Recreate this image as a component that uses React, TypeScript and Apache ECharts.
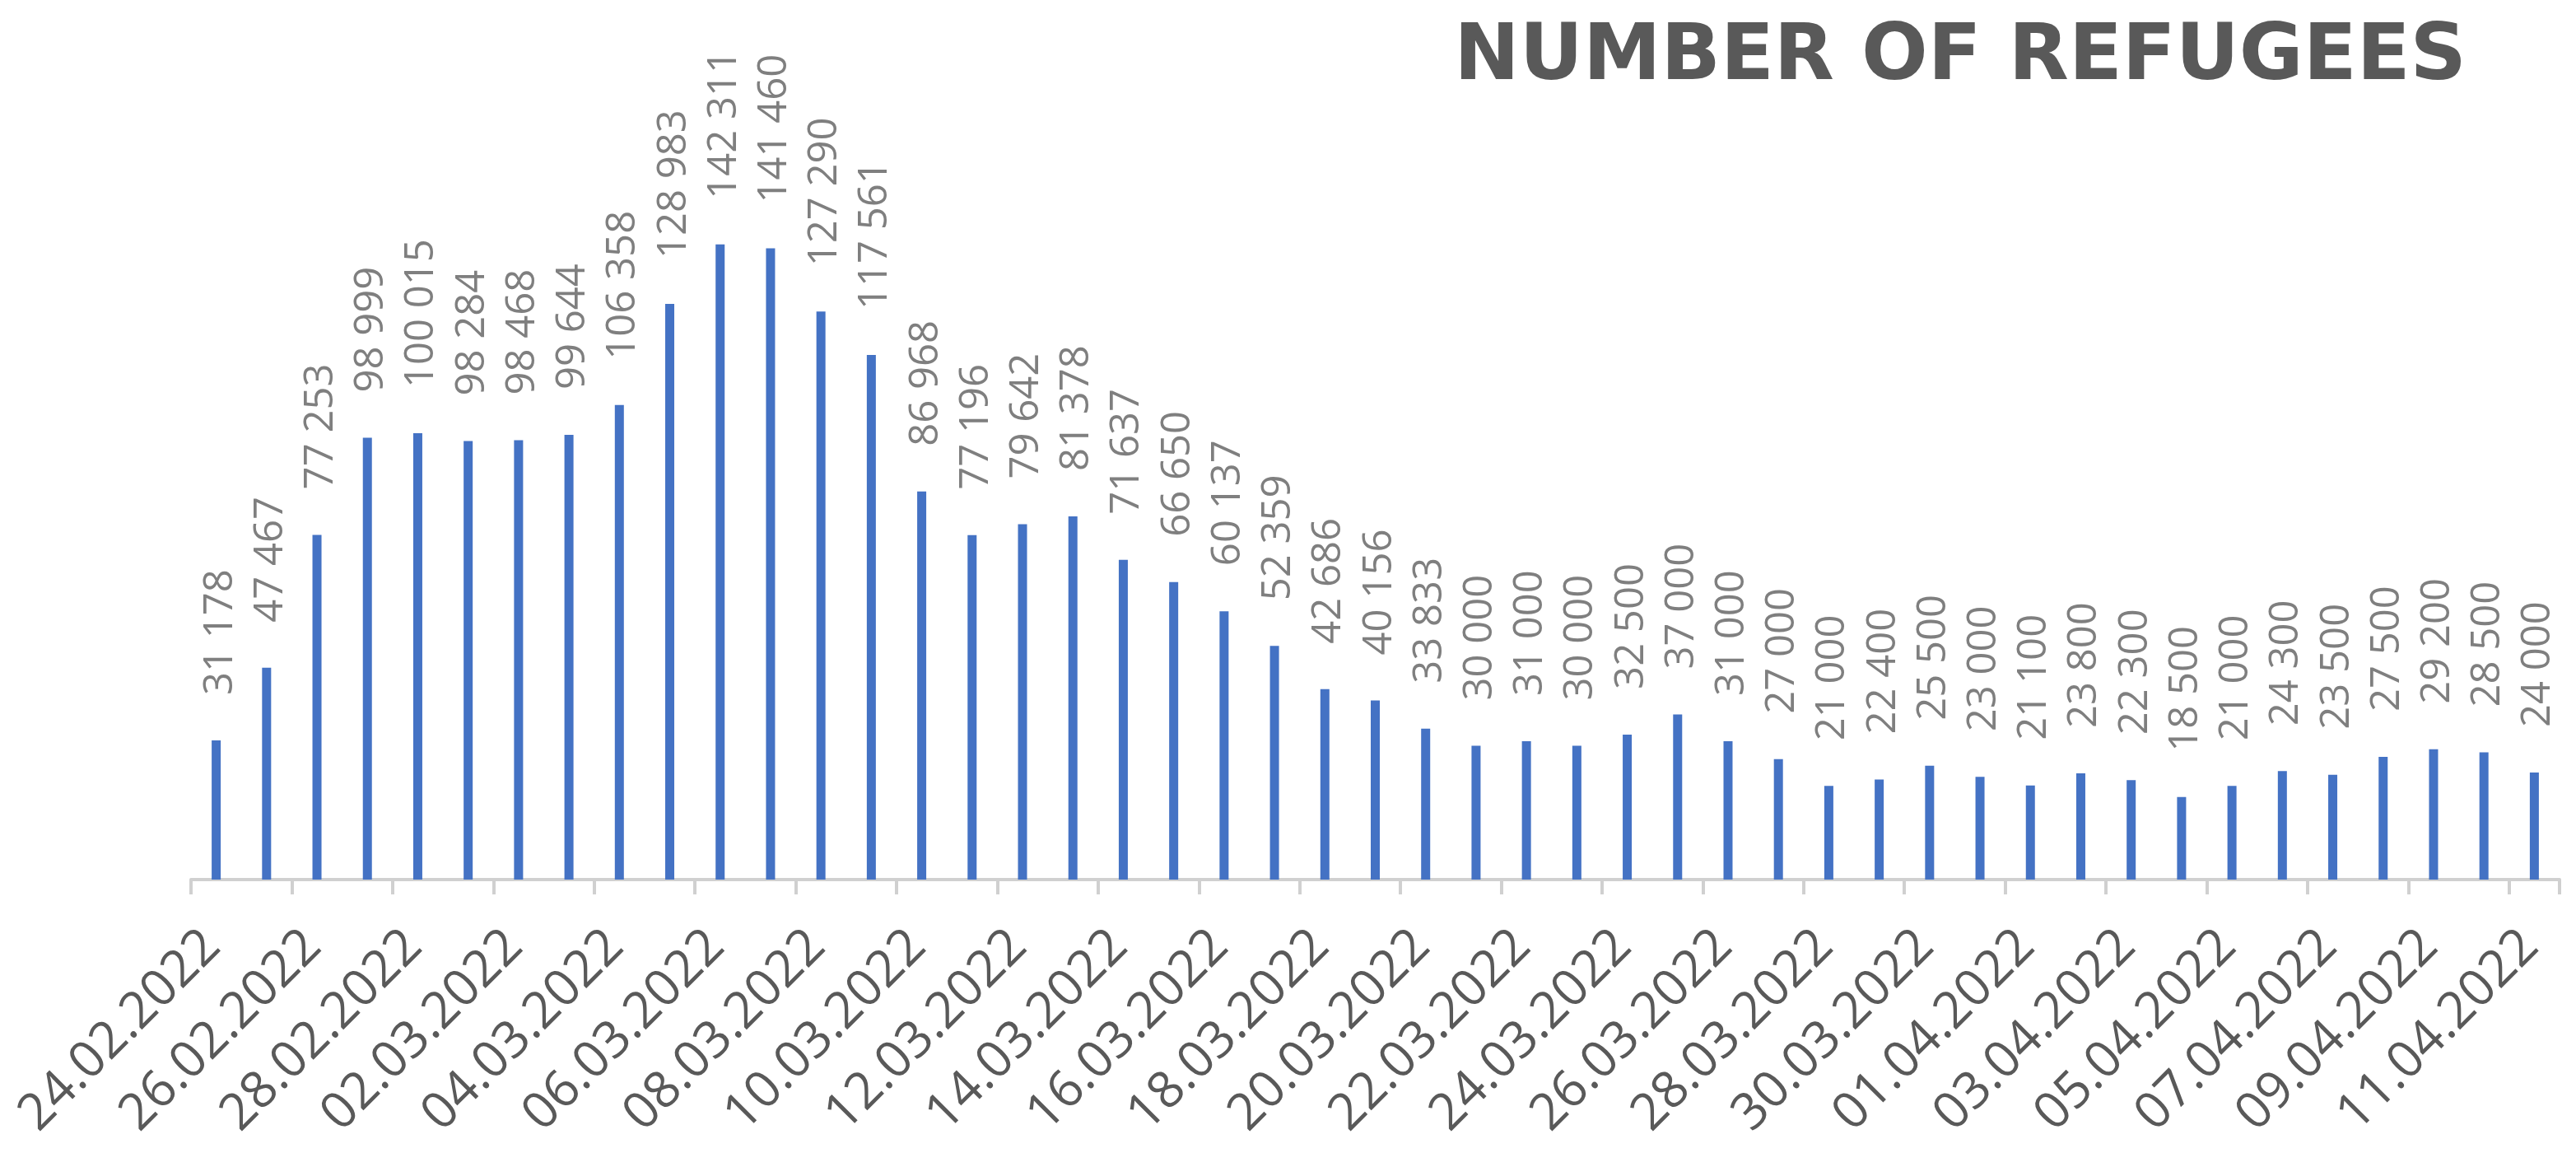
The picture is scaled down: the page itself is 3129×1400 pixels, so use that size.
import React, { useEffect, useRef } from "react";
import * as echarts from "echarts";

const chartTitle = "NUMBER OF REFUGEES";

const dates: string[] = [
  "24.02.2022", "25.02.2022", "26.02.2022", "27.02.2022", "28.02.2022",
  "01.03.2022", "02.03.2022", "03.03.2022", "04.03.2022", "05.03.2022",
  "06.03.2022", "07.03.2022", "08.03.2022", "09.03.2022", "10.03.2022",
  "11.03.2022", "12.03.2022", "13.03.2022", "14.03.2022", "15.03.2022",
  "16.03.2022", "17.03.2022", "18.03.2022", "19.03.2022", "20.03.2022",
  "21.03.2022", "22.03.2022", "23.03.2022", "24.03.2022", "25.03.2022",
  "26.03.2022", "27.03.2022", "28.03.2022", "29.03.2022", "30.03.2022",
  "31.03.2022", "01.04.2022", "02.04.2022", "03.04.2022", "04.04.2022",
  "05.04.2022", "06.04.2022", "07.04.2022", "08.04.2022", "09.04.2022",
  "10.04.2022", "11.04.2022",
];

const refugees: number[] = [
  31178, 47467, 77253, 98999, 100015, 98284, 98468, 99644, 106358, 128983,
  142311, 141460, 127290, 117561, 86968, 77196, 79642, 81378, 71637, 66650,
  60137, 52359, 42686, 40156, 33833, 30000, 31000, 30000, 32500, 37000,
  31000, 27000, 21000, 22400, 25500, 23000, 21100, 23800, 22300, 18500,
  21000, 24300, 23500, 27500, 29200, 28500, 24000,
];

const fmt = (v: number) => String(v).replace(/\B(?=(\d{3})+(?!\d))/g, " ");

export default function App() {
  const ref = useRef<HTMLDivElement>(null);
  useEffect(() => {
    const chart = echarts.init(ref.current as HTMLDivElement, null, { renderer: "svg" });
    chart.setOption({
      animation: false,
      backgroundColor: "#ffffff",
      title: {
        text: chartTitle,
        right: 128,
        top: 10,
        textStyle: {
          fontFamily: "DejaVu Sans",
          fontWeight: "bold",
          fontSize: 95,
          color: "#595959",
        },
      },
      grid: {
        left: 232,
        right: 20,
        top: 201,
        bottom: 332,
        containLabel: false,
        outerBoundsMode: "none",
      },
      xAxis: {
        type: "category",
        data: dates,
        boundaryGap: true,
        axisLine: { show: true, lineStyle: { color: "#d0d0d0", width: 4 } },
        axisTick: {
          show: true,
          interval: 1,
          length: 18,
          alignWithLabel: false,
          lineStyle: { color: "#d0d0d0", width: 4 },
        },
        axisLabel: {
          interval: 1,
          rotate: 45,
          margin: 58,
          padding: [0, 13, 0, 0],
          lineHeight: 50,
          fontSize: 62,
          fontFamily: "Open Sans",
          color: "#595959",
        },
      },
      yAxis: { type: "value", min: 0, max: 160000, show: false },
      series: [
        {
          type: "bar",
          data: refugees,
          barWidth: 11,
          itemStyle: { color: "#4472C4" },
          label: {
            show: true,
            position: "top",
            distance: 55,
            rotate: 90,
            align: "left",
            verticalAlign: "middle",
            fontSize: 49,
            fontFamily: "Open Sans",
            color: "#7f7f7f",
            formatter: (p: any) => fmt(p.value as number),
          },
        },
      ],
    });
    return () => chart.dispose();
  }, []);
  return (
    <div
      ref={ref}
      style={{ position: "absolute", left: 0, top: 0, width: 3129, height: 1400, background: "#fff" }}
    />
  );
}
